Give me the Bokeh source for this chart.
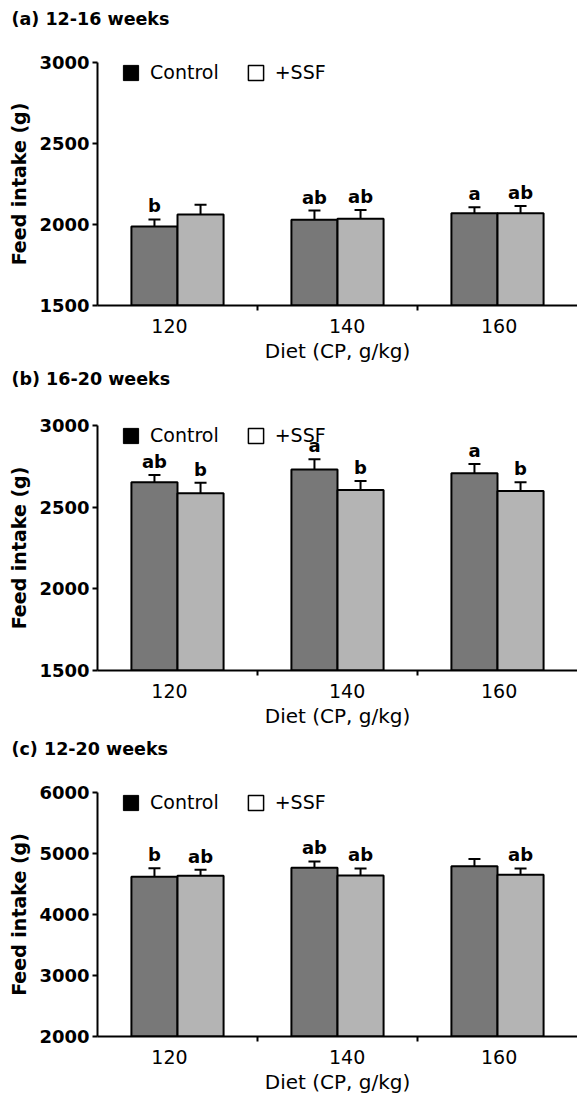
from bokeh.plotting import figure
from bokeh.models import (ColumnDataSource, Whisker, TeeHead, FixedTicker, Legend,
                          LegendItem, Range1d, Title)
from bokeh.layouts import column
from bokeh.embed import file_html
from bokeh.resources import INLINE
from bokeh.core.properties import value

# ---------------- data ----------------
diets = ["120", "140", "160"]
panel_titles = ["(a) 12-16 weeks", "(b) 16-20 weeks", "(c) 12-20 weeks"]
series_names = ["Control", "+SSF"]

control_a = [1988, 2029, 2069]
control_a_err = [43, 57, 37]
ssf_a = [2061, 2035, 2069]
ssf_a_err = [61, 55, 45]
letters_control_a = ["b", "ab", "a"]
letters_ssf_a = ["", "ab", "ab"]

control_b = [2652, 2731, 2707]
control_b_err = [45, 63, 57]
ssf_b = [2585, 2605, 2599]
ssf_b_err = [65, 55, 53]
letters_control_b = ["ab", "a", "a"]
letters_ssf_b = ["b", "b", "b"]

control_c = [4620, 4766, 4793]
control_c_err = [140, 104, 115]
ssf_c = [4636, 4641, 4652]
ssf_c_err = [98, 114, 103]
letters_control_c = ["b", "ab", ""]
letters_ssf_c = ["ab", "ab", "ab"]

y_ticks_ab = [1500, 2000, 2500, 3000]
y_ticks_c = [2000, 3000, 4000, 5000, 6000]

# ---------------- styling ----------------
FONT = "DejaVu Sans"
CONTROL_FILL = "#787878"
SSF_FILL = "#b4b4b4"
BAR_W = 0.288
OFF = 0.144
LABEL_POS = [0.45, 1.56, 2.51]
NAN = float("nan")

panels = [
    dict(title=panel_titles[0], ctrl=control_a, ctrl_err=control_a_err, ssf=ssf_a, ssf_err=ssf_a_err,
         lc=letters_control_a, ls=letters_ssf_a, yr=(1500, 3000), ticks=y_ticks_ab,
         height=365, top=62, bottom=60, gap=31),
    dict(title=panel_titles[1], ctrl=control_b, ctrl_err=control_b_err, ssf=ssf_b, ssf_err=ssf_b_err,
         lc=letters_control_b, ls=letters_ssf_b, yr=(1500, 3000), ticks=y_ticks_ab,
         height=365, top=60, bottom=60, gap=34),
    dict(title=panel_titles[2], ctrl=control_c, ctrl_err=control_c_err, ssf=ssf_c, ssf_err=ssf_c_err,
         lc=letters_control_c, ls=letters_ssf_c, yr=(2000, 6000), ticks=y_ticks_c,
         height=366, top=62, bottom=60, gap=31),
]


def make_panel(d):
    frame_h = d["height"] - d["top"] - d["bottom"]
    p = figure(width=577, height=d["height"], x_range=Range1d(0, 3),
               y_range=Range1d(*d["yr"]), output_backend="svg", toolbar_location=None,
               min_border_left=97, min_border_right=0, min_border_top=d["top"],
               min_border_bottom=d["bottom"])
    # real title (outer), with a blank spacer title placed between it and the frame
    p.title.text = d["title"]
    p.title.align = "left"
    p.title.offset = -86
    p.title.standoff = 0
    p.title.text_font = FONT
    p.title.text_font_size = "17.5px"
    p.title.text_font_style = "bold"
    p.title.text_color = "black"
    p.add_layout(Title(text=" ", text_font_size="1px", standoff=d["gap"]), "above")
    p.outline_line_color = None
    p.xgrid.visible = False
    p.ygrid.visible = False
    lo = d["yr"][0]

    groups = [i + 0.5 for i in range(len(diets))]
    for vals, errs, letters, shift, fill in [
        (d["ctrl"], d["ctrl_err"], d["lc"], -OFF, CONTROL_FILL),
        (d["ssf"], d["ssf_err"], d["ls"], OFF, SSF_FILL),
    ]:
        xs = [g + shift for g in groups]
        src = ColumnDataSource(dict(x=xs, top=vals, up=[v + e for v, e in zip(vals, errs)],
                                    letter=letters))
        p.vbar(x="x", top="top", bottom=lo, width=BAR_W, source=src, fill_color=fill,
               line_color="black", line_width=2)
        w = Whisker(base="x", lower="top", upper="up", source=src, line_width=2,
                    line_color="black", upper_head=TeeHead(size=12, line_width=2, line_color="black"),
                    lower_head=None)
        p.add_layout(w)
        p.text(x="x", y="up", text="letter", source=src, text_align="center",
               text_baseline="bottom", y_offset=-3, text_font=value(FONT),
               text_font_style="bold", text_font_size="18px", text_color="black")

    # legend (placeholder renderers that draw nothing in the plot)
    r1 = p.quad(left=[NAN], right=[NAN], top=[NAN], bottom=[NAN], fill_color="black",
                line_color="black")
    r2 = p.quad(left=[NAN], right=[NAN], top=[NAN], bottom=[NAN], fill_color="white",
                line_color="black", line_width=1.5)
    leg = Legend(items=[LegendItem(label=series_names[0], renderers=[r1]),
                        LegendItem(label=series_names[1], renderers=[r2])],
                 orientation="horizontal", location=(24, frame_h - 21), border_line_color=None,
                 background_fill_alpha=0, label_text_font=FONT, label_text_font_size="19px",
                 label_text_color="black", glyph_width=19, glyph_height=19, label_standoff=10,
                 spacing=27, padding=0, margin=0)
    p.add_layout(leg)

    # y axis
    ya = p.yaxis[0]
    ya.ticker = FixedTicker(ticks=d["ticks"])
    ya.axis_label = "Feed intake (g)"
    ya.axis_label_text_font = FONT
    ya.axis_label_text_font_size = "19px"
    ya.axis_label_text_font_style = "bold"
    ya.axis_label_text_color = "black"
    ya.axis_label_standoff = 6
    ya.major_label_text_font = FONT
    ya.major_label_text_font_size = "18px"
    ya.major_label_text_font_style = "bold"
    ya.major_label_text_color = "black"
    ya.major_label_standoff = 3
    ya.axis_line_width = 2
    ya.axis_line_color = "black"
    ya.major_tick_line_width = 2
    ya.major_tick_in = 0
    ya.major_tick_out = 5
    ya.minor_tick_line_color = None

    # x axis
    xa = p.xaxis[0]
    xa.ticker = FixedTicker(ticks=LABEL_POS, minor_ticks=[1, 2])
    xa.major_label_overrides = dict(zip(LABEL_POS, diets))
    xa.axis_label = "Diet (CP, g/kg)"
    xa.axis_label_text_font = FONT
    xa.axis_label_text_font_size = "20px"
    xa.axis_label_text_font_style = "normal"
    xa.axis_label_text_color = "black"
    xa.axis_label_standoff = 3
    xa.major_label_text_font = FONT
    xa.major_label_text_font_size = "19px"
    xa.major_label_text_color = "black"
    xa.major_label_standoff = 8
    xa.axis_line_width = 2
    xa.axis_line_color = "black"
    xa.major_tick_in = 0
    xa.major_tick_out = 0
    xa.minor_tick_in = 0
    xa.minor_tick_out = 5
    xa.minor_tick_line_width = 2
    xa.minor_tick_line_color = "black"
    return p


figs = [make_panel(d) for d in panels]
layout = column(*figs, spacing=0)
open("out.html", "w").write(file_html(layout, INLINE))
